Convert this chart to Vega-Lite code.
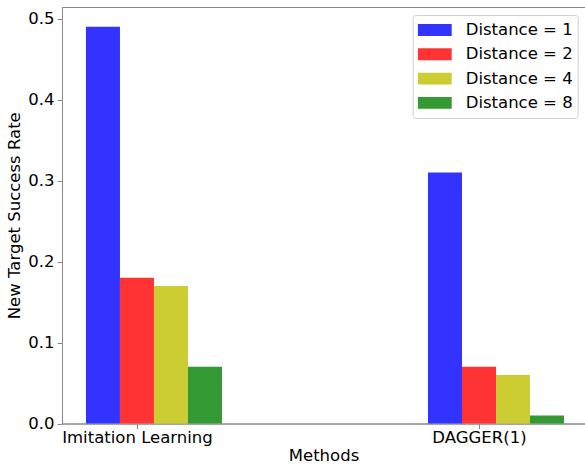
{
  "$schema": "https://vega.github.io/schema/vega-lite/v6.json",
  "width": 523,
  "height": 416.5,
  "autosize": {"type": "none"},
  "padding": {"left": 62, "top": 7, "right": 0, "bottom": 40.5},
  "background": "white",
  "config": {
    "font": "DejaVu Sans",
    "view": {"stroke": "#888888", "strokeWidth": 1},
    "axis": {
      "labelFont": "DejaVu Sans",
      "labelFontSize": 16.5,
      "labelColor": "#000000",
      "titleFont": "DejaVu Sans",
      "titleFontSize": 16.5,
      "titleFontWeight": "normal",
      "titleColor": "#000000",
      "domainColor": "#888888",
      "domainWidth": 1,
      "tickColor": "#888888",
      "tickSize": 5,
      "grid": false
    },
    "legend": {
      "labelFont": "DejaVu Sans",
      "labelFontSize": 16.5,
      "labelColor": "#000000"
    }
  },
  "data": {
    "values": [
      {"method": "Imitation Learning", "distance": "Distance = 1", "rate": 0.49},
      {"method": "Imitation Learning", "distance": "Distance = 2", "rate": 0.18},
      {"method": "Imitation Learning", "distance": "Distance = 4", "rate": 0.17},
      {"method": "Imitation Learning", "distance": "Distance = 8", "rate": 0.07},
      {"method": "DAGGER(1)", "distance": "Distance = 1", "rate": 0.31},
      {"method": "DAGGER(1)", "distance": "Distance = 2", "rate": 0.07},
      {"method": "DAGGER(1)", "distance": "Distance = 4", "rate": 0.06},
      {"method": "DAGGER(1)", "distance": "Distance = 8", "rate": 0.01}
    ]
  },
  "mark": {"type": "bar", "opacity": 1},
  "encoding": {
    "x": {
      "field": "method",
      "type": "nominal",
      "sort": ["Imitation Learning", "DAGGER(1)"],
      "scale": {"paddingInner": 0.6023, "paddingOuter": 0.0657, "align": 0.533},
      "axis": {
        "title": "Methods",
        "labelAngle": 0,
        "tickOffset": -17,
        "labelPadding": 1,
        "titlePadding": 1
      }
    },
    "xOffset": {
      "field": "distance",
      "type": "nominal",
      "sort": ["Distance = 1", "Distance = 2", "Distance = 4", "Distance = 8"],
      "scale": {"paddingInner": 0, "paddingOuter": 0}
    },
    "y": {
      "field": "rate",
      "type": "quantitative",
      "scale": {"domain": [0, 0.5145], "nice": false, "zero": true},
      "axis": {
        "title": "New Target Success Rate",
        "values": [0, 0.1, 0.2, 0.3, 0.4, 0.5],
        "format": ".1f",
        "labelPadding": 3,
        "titlePadding": 5
      }
    },
    "color": {
      "field": "distance",
      "type": "nominal",
      "sort": ["Distance = 1", "Distance = 2", "Distance = 4", "Distance = 8"],
      "scale": {
        "domain": ["Distance = 1", "Distance = 2", "Distance = 4", "Distance = 8"],
        "range": ["#3333ff", "#ff3333", "#cccc33", "#339933"]
      },
      "legend": {
        "title": null,
        "orient": "none",
        "legendX": 350.7,
        "legendY": 8,
        "symbolType": "M-1,-0.35H1V0.35H-1Z",
        "symbolSize": 1156,
        "symbolStrokeWidth": 0,
        "symbolOpacity": 1,
        "symbolOffset": 0,
        "labelOffset": 14,
        "clipHeight": 20,
        "rowPadding": 4.3,
        "padding": 5,
        "strokeColor": "#d0d0d0",
        "fillColor": "white",
        "cornerRadius": 3
      }
    }
  }
}
